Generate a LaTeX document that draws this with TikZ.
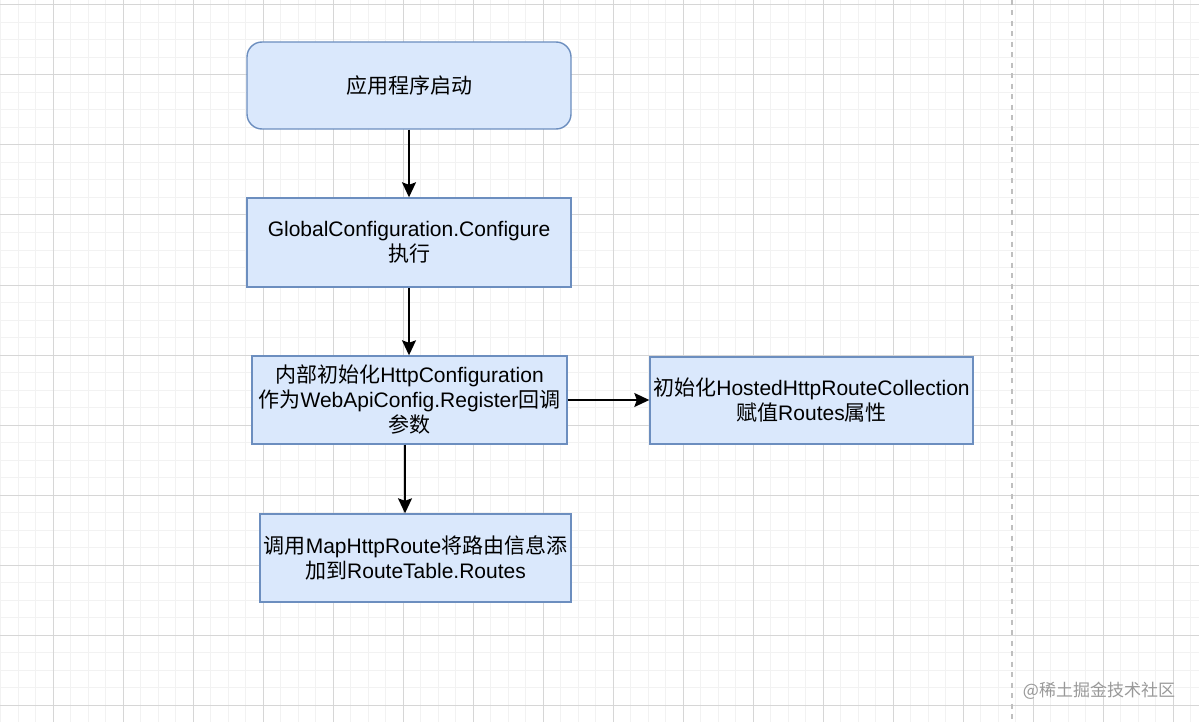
\documentclass[tikz,border=0pt]{standalone}
\usepackage{fontspec}
\setmainfont{Liberation Sans}
\newfontfamily\cjk{Noto Sans CJK SC}
\usetikzlibrary{arrows.meta}
\definecolor{cajafondo}{HTML}{DAE8FC}
\definecolor{cajaborde}{HTML}{6C8EBF}
\definecolor{rejilla}{HTML}{D6D6D6}
\definecolor{rejillafina}{HTML}{F2F2F2}
\begin{document}
\begin{tikzpicture}[x=1pt,y=-1pt,
		caja/.style={draw=cajaborde, fill=cajafondo, line width=1.4pt, inner sep=0pt, align=center, font=\fontsize{21}{25}\selectfont},
		flecha/.style={-{Stealth[length=15pt,width=14pt,inset=2.5pt]}, line width=1.5pt}]
			\useasboundingbox (0,0) rectangle (1199,722);
			\fill[white] (0,0) rectangle (1199,722);
			% Rejilla de fondo
			\foreach \gx in {0.5,18,...,1199} \draw[rejillafina, line width=1pt] (\gx,0) -- (\gx,722);
			\foreach \gy in {5,22.5,...,722} \draw[rejillafina, line width=1pt] (0,\gy) -- (1199,\gy);
			\foreach \gx in {53,123,...,1199} \draw[rejilla, line width=1pt] (\gx,0) -- (\gx,722);
			\foreach \gy in {5,75,...,722} \draw[rejilla, line width=1pt] (0,\gy) -- (1199,\gy);
			\draw[gray!50, line width=1.6pt, dash pattern=on 5pt off 5.5pt] (1012,0) -- (1012,722);
			\node[caja, rounded corners=15pt, minimum width=324pt, minimum height=87pt] (inicio) at (409,85.5) {{\cjk 应用程序启动}};
			\node[caja, minimum width=324pt, minimum height=89pt] (global) at (409,242.5) {GlobalConfiguration.Configure\\{\cjk 执行}};
			\node[caja, minimum width=315pt, minimum height=88pt] (interno) at (409.5,400) {{\cjk 内部初始化}HttpConfiguration\\{\cjk 作为}WebApiConfig.Register{\cjk 回调}\\{\cjk 参数}};
			\node[caja, minimum width=323pt, minimum height=87pt] (hosted) at (811.5,400.5) {{\cjk 初始化}HostedHttpRouteCollection\\{\cjk 赋值}Routes{\cjk 属性}};
			\node[caja, minimum width=311pt, minimum height=88pt] (mapa) at (415.5,558) {{\cjk 调用}MapHttpRoute{\cjk 将路由信息添}\\{\cjk 加到}RouteTable.Routes};
			\draw[flecha] (inicio) -- (global);
			\draw[flecha] (global.south) -- (global.south |- interno.north);
			\draw[flecha] (interno.east) -- (interno.east -| hosted.west);
			\draw[flecha] ([xshift=-4.5pt]interno.south) -- ([xshift=-4.5pt]interno.south |- mapa.north);
			\node[text=gray!80, font=\cjk\fontsize{17}{17}\selectfont] (marca) at (1099,691) {@稀土掘金技术社区};
		\end{tikzpicture}
\end{document}
